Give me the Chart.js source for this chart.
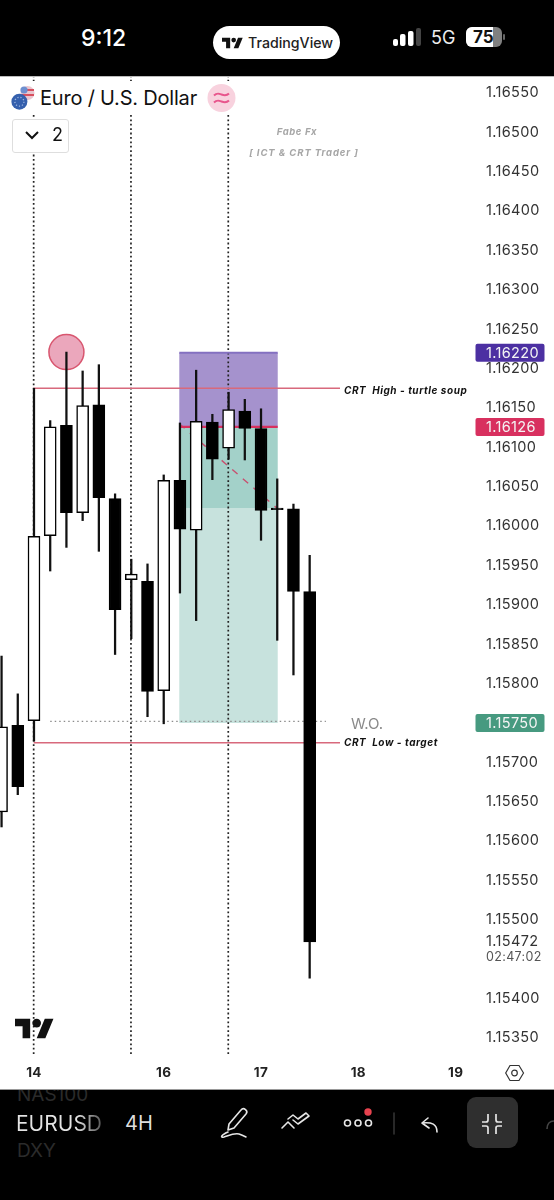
<!DOCTYPE html>
<html>
<head>
<meta charset="utf-8">
<title>EURUSD 4H</title>
<script src="https://cdn.jsdelivr.net/npm/chart.js@4"></script>
<style>
  html, body { margin: 0; padding: 0; background: #fff; }
  body { position: relative; width: 554px; height: 1200px; overflow: hidden; font-family: Inter, sans-serif; }
  #grafico { position: absolute; left: 0; top: 0; }
  .abs { position: absolute; white-space: nowrap; }
  svg.abs { overflow: visible; }
  #topBar { position: absolute; left: 0; top: 0; width: 554px; height: 76px; background: #000; border-bottom: 1px solid #bbb; box-sizing: content-box; }
  #bottomBar { position: absolute; left: 0; top: 1089px; width: 554px; height: 111px; background: #000; border-top: 1px solid #999; overflow: hidden; }
</style>
</head>
<body>
<canvas id="grafico" width="554" height="1200"></canvas>

<!-- status bar -->
<div id="topBar">
  <div class="abs" style="left:81px;top:24px;font-size:23px;font-weight:500;color:#fff;line-height:28px;">9:12</div>
  <div class="abs" style="left:213px;top:26px;width:127px;height:33px;border-radius:17px;background:#fff;"></div>
  <svg class="abs" style="left:222px;top:37px;" width="21" height="12" viewBox="0 4 36 18"><path fill="#111" d="M14 22H7V11H0V4h14v18zM28 22h-8l7.5-18h8L28 22z"/><circle fill="#111" cx="20" cy="8" r="4"/></svg>
  <div class="abs" style="left:248px;top:33px;font-size:14.2px;font-weight:500;color:#222;line-height:20px;">TradingView</div>
  <svg class="abs" style="left:393px;top:28px;" width="30" height="19">
    <rect x="0" y="11" width="5" height="7" rx="2" fill="#fff"/>
    <rect x="7" y="6" width="5.5" height="12" rx="2" fill="#fff"/>
    <rect x="15" y="3" width="5.5" height="15" rx="2" fill="#fff"/>
    <rect x="23" y="0" width="5" height="18" rx="2" fill="#444"/>
  </svg>
  <div class="abs" style="left:431px;top:27px;font-size:18px;color:#eee;line-height:22px;">5G</div>
  <svg class="abs" style="left:466px;top:27px;" width="40" height="20">
    <rect x="0" y="0" width="36" height="20" rx="6" fill="#808080"/>
    <path d="M6 0H27V20H6A6 6 0 0 1 0 14V6A6 6 0 0 1 6 0Z" fill="#fff"/>
    <rect x="37" y="7" width="2" height="6" rx="1" fill="#666"/>
  </svg>
  <div class="abs" style="left:473px;top:27px;font-size:17px;font-weight:700;color:#111;line-height:20px;">75</div>
</div>

<!-- symbol title and collapsed indicators -->
<div class="abs" style="left:0;top:81px;width:237px;height:34px;background:#fff;"></div>
<svg class="abs" style="left:8px;top:84px;" width="28" height="28">
  <circle cx="19.5" cy="9" r="7" fill="#e9c6cf"/>
  <rect x="13" y="5" width="13" height="2" fill="#d8505f"/>
  <rect x="14" y="10" width="12" height="2" fill="#d8505f"/>
  <circle cx="16" cy="6" r="3.6" fill="#6d8fd0"/>
  <circle cx="11.4" cy="17.7" r="8" fill="#3560ad"/>
  <circle cx="11.4" cy="17.7" r="4.5" fill="none" stroke="#9fb6e0" stroke-width="1.3" stroke-dasharray="1.2 1.9"/>
</svg>
<div class="abs" style="left:40px;top:85px;font-size:20px;color:#111;line-height:26px;letter-spacing:-0.2px;">Euro / U.S. Dollar</div>
<svg class="abs" style="left:207px;top:84px;" width="29" height="28">
  <circle cx="14.5" cy="14" r="14" fill="#f8d2de"/>
  <path d="M7 11.5c3-3 5-2 7.5-1s5 1.5 7.5-1M7 18.5c3-3 5-2 7.5-1s5 1.5 7.5-1" fill="none" stroke="#e8558c" stroke-width="2"/>
</svg>
<div class="abs" style="left:12px;top:119px;width:55px;height:32px;border:1px solid #dedede;border-radius:3px;background:#fff;"></div>
<svg class="abs" style="left:25px;top:130px;" width="15" height="10"><path d="M1 2l6 6 6-6" fill="none" stroke="#111" stroke-width="2"/></svg>
<div class="abs" style="left:52px;top:124px;font-size:18px;color:#111;line-height:22px;">2</div>

<!-- watermark and scale settings -->
<svg class="abs" style="left:15px;top:1018px;" width="39" height="21" viewBox="0 4 36 18"><path fill="#111" d="M14 22H7V11H0V4h14v18zM28 22h-8l7.5-18h8L28 22z"/><circle fill="#111" cx="20" cy="8" r="4"/></svg>
<svg class="abs" style="left:505px;top:1064px;" width="19" height="18">
  <path d="M5 1.5H14L18.5 9L14 16.5H5L0.7 9Z" fill="none" stroke="#333" stroke-width="1.2"/>
  <circle cx="9.5" cy="9" r="2.8" fill="none" stroke="#333" stroke-width="1.2"/>
</svg>

<!-- bottom toolbar -->
<div id="bottomBar">
  <div class="abs" style="left:17px;top:-7px;font-size:19px;color:#2b2b2b;line-height:24px;">NAS100</div>
  <div class="abs" style="left:16px;top:20px;font-size:21px;line-height:27px;background:linear-gradient(90deg,#e4e4e4 70%,#555 100%);-webkit-background-clip:text;background-clip:text;color:transparent;">EURUSD</div>
  <div class="abs" style="left:125px;top:20px;font-size:20px;color:#dedede;line-height:27px;">4H</div>
  <div class="abs" style="left:17px;top:49px;font-size:19px;color:#2b2b2b;line-height:24px;">DXY</div>
  <svg class="abs" style="left:0;top:0;" width="554" height="111" fill="none" stroke="#e6e6e6" stroke-width="1.6" stroke-linecap="round" stroke-linejoin="round">
    <path d="M229 34L241 20a3 3 0 0 1 5 4L234 38L228 40Z"/>
    <path d="M228 42c-7 3-8 6-4 5c6-2 10-4 15-3c3 1 5 2 7 3"/>
    <path d="M282 38l6-6 6 6M293 30l5 4 11-8-3-3-8 6-5-4-5 4"/>
    <circle cx="347.5" cy="33" r="3"/><circle cx="358" cy="33" r="3"/><circle cx="368.5" cy="33" r="3"/>
    <path d="M394 23V44" stroke="#333"/>
    <path d="M428 28l-6 5 7 5M422 33c10-1 15 1 15 9"/>
  </svg>
  <svg class="abs" style="left:0;top:0;" width="554" height="111"><circle cx="368" cy="22" r="3.7" fill="#e8434f"/></svg>
  <div class="abs" style="left:467px;top:7px;width:51px;height:51px;border-radius:9px;background:#2f2f2f;"></div>
  <svg class="abs" style="left:0;top:0;" width="554" height="111" fill="none" stroke="#e6e6e6" stroke-width="1.7">
    <path d="M488 24V30a2 2 0 0 1-2 2H482M496 24V30a2 2 0 0 0 2 2H502M488 44V38a2 2 0 0 0-2-2H482M496 44V38a2 2 0 0 1 2-2H502"/>
    <path d="M554 31c-4 0-7 3-7 8" stroke="#444"/>
  </svg>
</div>

<script>
/* Velas 4H, eje x = indice de vela */
const candleIndex = [0, 1, 2, 3, 4, 5, 6, 7, 8, 9, 10, 11, 12, 13, 14, 15, 16, 17, 18, 19];
const opens  = [1.15637, 1.15747, 1.15753, 1.15988, 1.16128, 1.16017, 1.16154, 1.16035, 1.15932, 1.15930, 1.15791, 1.16058, 1.15995, 1.16132, 1.16099, 1.16146, 1.16124, 1.16023, 1.16022, 1.15917];
const highs  = [1.15835, 1.15787, 1.16175, 1.16134, 1.16221, 1.16197, 1.16205, 1.16041, 1.15958, 1.15952, 1.16065, 1.16131, 1.16198, 1.16142, 1.16170, 1.16161, 1.16149, 1.16060, 1.16028, 1.15963];
const lows   = [1.15618, 1.15659, 1.15727, 1.15943, 1.15973, 1.16007, 1.15968, 1.15837, 1.15857, 1.15758, 1.15749, 1.15915, 1.15880, 1.16059, 1.16085, 1.16084, 1.15982, 1.15855, 1.15811, 1.15426];
const closes = [1.15745, 1.15669, 1.15987, 1.16126, 1.16017, 1.16153, 1.16036, 1.15894, 1.15939, 1.15790, 1.16058, 1.15996, 1.16133, 1.16085, 1.16148, 1.16124, 1.16020, 1.16021, 1.15917, 1.15472];

/* Etiquetas de los ejes */
const priceTicks = [1.1655, 1.165, 1.1645, 1.164, 1.1635, 1.163, 1.1625, 1.162, 1.1615, 1.161, 1.1605, 1.16, 1.1595, 1.159, 1.1585, 1.158, 1.157, 1.1565, 1.156, 1.1555, 1.155, 1.154, 1.1535];
const timeTicks = [2, 10, 16, 22, 28];
const timeLabels = ['14', '16', '17', '18', '19'];

/* Limites visibles */
const priceMin = 1.153297;
const priceMax = 1.165703;
const indexMin = -0.096;
const indexMax = 29.38;

/* Niveles dibujados encima */
const sessionLines = [1.98, 7.98, 13.98];
const crtHigh = 1.16175;
const crtLow = 1.15725;
const crtStart = 1.98;
const crtEnd = 20.87;
const woLevel = 1.15752;
const woStart = 3;
const woEnd = 20.0;
const sweptHigh = 1.16221;

/* Posicion corta: stop, entrada, mitad y objetivo */
const zoneStart = 10.96;
const zoneEnd = 17.03;
const stopPrice = 1.16220;
const entryPrice = 1.16126;
const midPrice = 1.16023;
const targetPrice = 1.15750;
const lastPrice = 1.15472;
const countdown = '02:47:02';
const tradePathX = [10.96, 17.03];
const tradePathY = [1.16130, 1.16022];

const INK = '#000000';

function candleColor(i) {
  return closes[i] >= opens[i] ? '#ffffff' : INK;
}

function lineSet(points, color, width, dash, order) {
  return {
    type: 'line',
    data: points,
    borderColor: color,
    borderWidth: width,
    borderDash: dash || [],
    pointRadius: 0,
    fill: false,
    tension: 0,
    order: order
  };
}

/* Zonas de la posicion, debajo de todo */
const zonesPlugin = {
  id: 'zones',
  beforeDraw(chart) {
    // separacion de las etiquetas de los ejes
    chart.ctx.letterSpacing = '0.35px';
  },
  beforeDatasetsDraw(chart) {
    const { ctx, scales: { x, y } } = chart;
    const left = x.getPixelForValue(zoneStart);
    const right = x.getPixelForValue(zoneEnd);
    const band = (top, bottom, color) => {
      ctx.fillStyle = color;
      ctx.fillRect(left, y.getPixelForValue(top), right - left, y.getPixelForValue(bottom) - y.getPixelForValue(top));
    };
    band(stopPrice, entryPrice, '#a592cd');
    band(entryPrice, midPrice, '#a3d1c9');
    band(midPrice, targetPrice, '#c7e2dd');
  }
};

/* Textos y etiquetas de precio */
const labelsPlugin = {
  id: 'labels',
  afterDraw(chart) {
    const { ctx, scales: { y } } = chart;
    ctx.save();
    ctx.textBaseline = 'middle';

    const priceTag = (value, color) => {
      const py = y.getPixelForValue(value);
      ctx.fillStyle = color;
      ctx.beginPath();
      ctx.roundRect(475.5, py - 9, 69, 18, 2);
      ctx.fill();
      ctx.fillStyle = '#f4f4f4';
      ctx.font = '14.5px Inter';
      ctx.textAlign = 'left';
      ctx.letterSpacing = '0.35px';
      ctx.fillText(value.toFixed(5), 486, py + 0.5);
    };
    priceTag(stopPrice, '#4c30a2');
    priceTag(entryPrice, '#d8305f');
    priceTag(targetPrice, '#479a80');

    // ultimo precio y cuenta atras
    const lastY = y.getPixelForValue(lastPrice);
    ctx.fillStyle = '#333';
    ctx.font = '14.5px Inter';
    ctx.fillText(lastPrice.toFixed(5), 486, lastY);
    ctx.fillStyle = '#555';
    ctx.font = '12.5px Inter';
    ctx.fillText(countdown, 486, lastY + 15);

    ctx.fillStyle = '#111';
    ctx.font = 'italic bold 10px Inter';
    ctx.letterSpacing = '0.55px';
    ctx.fillText('CRT  High - turtle soup', 344, y.getPixelForValue(crtHigh) + 3);
    ctx.fillText('CRT  Low - target', 344, y.getPixelForValue(crtLow));

    ctx.fillStyle = '#a6a6a6';
    ctx.font = 'italic bold 9.5px Inter';
    ctx.letterSpacing = '0.6px';
    ctx.textAlign = 'center';
    ctx.fillText('Fabe Fx', 297, 132.5);
    ctx.letterSpacing = '0.9px';
    ctx.fillText('[ ICT & CRT Trader ]', 304, 153);
    ctx.letterSpacing = '0px';

    ctx.fillStyle = '#8a8a8a';
    ctx.font = '15px Inter';
    ctx.textAlign = 'left';
    ctx.fillText('W.O.', 351, 724.5);
    ctx.restore();
  }
};

const config = {
  data: {
    datasets: [
      {
        type: 'bar',
        data: candleIndex.map((i) => ({ x: i, y: [opens[i], closes[i]] })),
        backgroundColor: candleIndex.map(candleColor),
        borderColor: INK,
        borderWidth: 1.5,
        borderSkipped: false,
        barThickness: 12,
        grouped: false,
        order: 1
      },
      {
        type: 'bar',
        data: candleIndex.map((i) => ({ x: i, y: [lows[i], highs[i]] })),
        backgroundColor: '#111111',
        barThickness: 1.6,
        grouped: false,
        order: 2
      },
      lineSet([{ x: crtStart, y: crtHigh }, { x: crtEnd, y: crtHigh }], '#d8697c', 1.4, null, 3),
      lineSet([{ x: crtStart, y: crtLow }, { x: crtEnd, y: crtLow }], '#d8697c', 1.4, null, 3),
      lineSet([{ x: woStart, y: woLevel }, { x: woEnd, y: woLevel }], '#8c8c8c', 1.2, [1.5, 3], 3),
      lineSet([{ x: zoneStart, y: entryPrice }, { x: zoneEnd, y: entryPrice }], '#d8305f', 2.4, null, 4),
      lineSet([{ x: zoneStart, y: stopPrice }, { x: zoneEnd, y: stopPrice }], '#8470c0', 2, null, 4),
      lineSet(tradePathX.map((v, i) => ({ x: v, y: tradePathY[i] })), '#c8506f', 1.4, [7, 7], 4),
      ...sessionLines.map((v) => lineSet([{ x: v, y: priceMin }, { x: v, y: priceMax }], '#222222', 1.7, [1.8, 2.6], 5)),
      {
        type: 'scatter',
        data: [{ x: 4, y: sweptHigh }],
        pointRadius: 17.5,
        pointBackgroundColor: 'rgba(226, 130, 160, 0.7)',
        pointBorderColor: '#d8566f',
        pointBorderWidth: 1.5,
        order: 6
      }
    ]
  },
  options: {
    responsive: false,
    animation: false,
    layout: { autoPadding: false, padding: { top: 77, bottom: 110, left: 0, right: 0 } },
    plugins: { legend: { display: false }, tooltip: { enabled: false } },
    scales: {
      x: {
        type: 'linear',
        offset: false,
        min: indexMin,
        max: indexMax,
        grid: { display: false, drawTicks: false, offset: false },
        border: { display: false },
        afterFit(axis) {
          axis.height = 36;
          axis.paddingLeft = 0;
          axis.paddingRight = 0;
        },
        afterBuildTicks(axis) { axis.ticks = timeTicks.map((v) => ({ value: v })); },
        ticks: {
          padding: 11,
          maxRotation: 0,
          autoSkip: false,
          color: '#222',
          font: { family: 'Inter', size: 13.5, weight: '700' },
          callback: (value) => timeLabels[timeTicks.indexOf(value)]
        }
      },
      y: {
        type: 'linear',
        position: 'right',
        min: priceMin,
        max: priceMax,
        grid: { display: false, drawTicks: false },
        border: { display: false },
        afterFit(axis) {
          axis.width = 76;
          axis.paddingTop = 0;
          axis.paddingBottom = 0;
        },
        afterBuildTicks(axis) { axis.ticks = priceTicks.map((v) => ({ value: v })); },
        ticks: {
          padding: 8,
          autoSkip: false,
          color: '#333',
          font: { family: 'Inter', size: 14.5 },
          callback: (value) => value.toFixed(5)
        }
      }
    }
  },
  plugins: [zonesPlugin, labelsPlugin]
};

new Chart(document.getElementById('grafico').getContext('2d'), config);
</script>
</body>
</html>
